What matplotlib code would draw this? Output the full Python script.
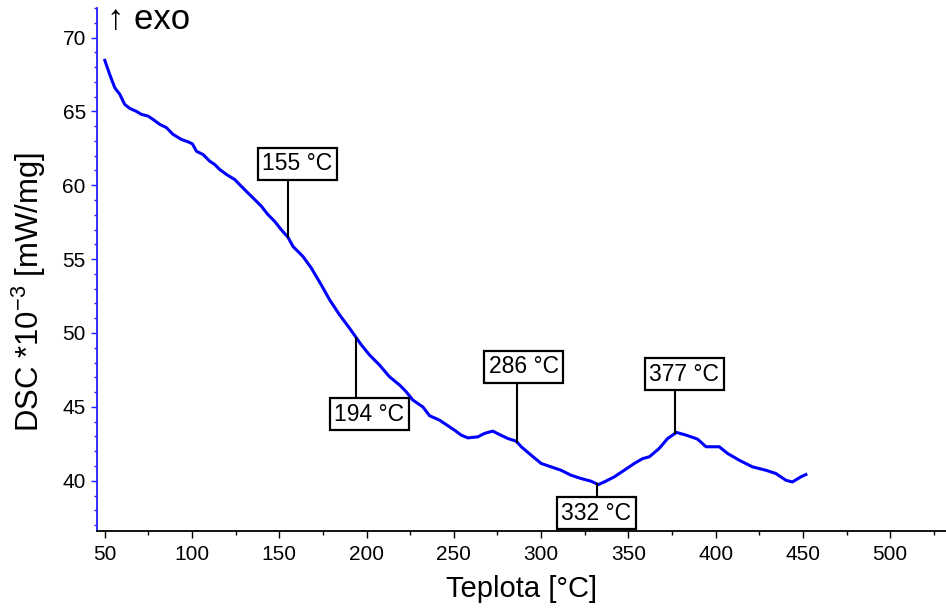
import numpy as np
import matplotlib
matplotlib.use("Agg")
import matplotlib.pyplot as plt
from matplotlib.ticker import MultipleLocator

plt.rcParams['font.family'] = ['Liberation Sans', 'DejaVu Sans']
plt.rcParams['mathtext.fontset'] = 'custom'
plt.rcParams['mathtext.rm'] = 'Liberation Sans'

# DSC trace: temperature [°C] and heat flow [mW/mg * 1e-3]
temperature = [
    50.0, 52.8, 55.7, 58.6, 61.4, 64.3, 68.1, 70.9, 74.8, 77.6, 81.5, 85.3,
    89.1, 93.9, 97.7, 100.2, 102.5, 106.3, 110.1, 113.0, 115.8, 119.7, 124.4,
    128.2, 132.0, 135.9, 139.7, 143.5, 147.3, 151.1, 155.0, 157.8, 163.5,
    168.3, 174.0, 178.8, 184.5, 190.2, 197.0, 201.7, 207.4, 213.1, 218.9,
    222.7, 226.5, 232.2, 236.1, 241.8, 247.5, 250.3, 254.2, 258.0, 263.7,
    267.5, 272.3, 276.1, 280.9, 285.7, 288.6, 294.3, 300.0, 305.7, 311.4,
    317.2, 322.9, 328.6, 332.8, 336.2, 341.9, 347.6, 353.4, 358.2, 362.0,
    367.7, 372.5, 377.6, 383.0, 389.6, 394.5, 402.1, 406.8, 413.5, 421.1,
    428.8, 434.5, 440.3, 444.0, 448.8, 451.7,
]
dsc = [
    68.45, 67.5, 66.6, 66.15, 65.47, 65.2, 65.0, 64.8, 64.68, 64.46, 64.12, 63.9,
    63.44, 63.1, 62.94, 62.8, 62.3, 62.08, 61.63, 61.4, 61.07, 60.73, 60.39,
    59.93, 59.48, 59.03, 58.58, 58.01, 57.56, 56.99, 56.47, 55.86, 55.18,
    54.4, 53.26, 52.25, 51.23, 50.33, 49.19, 48.51, 47.83, 47.04, 46.48,
    46.02, 45.46, 45.0, 44.4, 44.1, 43.65, 43.43, 43.09, 42.9, 42.97,
    43.2, 43.36, 43.13, 42.86, 42.68, 42.3, 41.73, 41.17, 40.94, 40.71,
    40.37, 40.15, 39.97, 39.74, 39.92, 40.26, 40.71, 41.17, 41.5, 41.62,
    42.19, 42.86, 43.27, 43.09, 42.82, 42.3, 42.3, 41.85, 41.39, 40.94,
    40.71, 40.49, 40.03, 39.92, 40.26, 40.42,
]

# Characteristic temperatures and where their labels sit
peak_temps = [155, 194, 286, 332, 377]
label_x = [160.3, 201.5, 290.0, 331.7, 382.0]
label_y = [61.45, 44.5, 47.7, 37.8, 47.2]

fig = plt.figure(figsize=(9.46, 6.12), dpi=100)
ax = fig.add_axes([0.1025, 0.1324, 0.8975, 0.8546])

ax.plot(temperature, dsc, color='#0000ff', lw=2.2, zorder=3)

for t, lx, ly in zip(peak_temps, label_x, label_y):
    yc = np.interp(t, temperature, dsc)
    ax.plot([t, t], [yc, ly], color='black', lw=1.5, zorder=4)
    ax.text(lx, ly, f"{t} °C", ha='center', va='center', fontsize=16.5,
            zorder=5,
            bbox=dict(boxstyle='square,pad=0.2', fc='white', ec='black', lw=1.6))

ax.set_xlim(45.5, 532)
ax.set_ylim(36.6, 72.0)

ax.xaxis.set_major_locator(MultipleLocator(50))
ax.xaxis.set_minor_locator(MultipleLocator(25))
ax.yaxis.set_major_locator(MultipleLocator(5))
ax.yaxis.set_minor_locator(MultipleLocator(1))
ax.set_yticks([40, 45, 50, 55, 60, 65, 70])

for side in ('top', 'right'):
    ax.spines[side].set_visible(False)
ax.spines['left'].set_color('#2020ff')
ax.spines['left'].set_linewidth(1.3)
ax.spines['bottom'].set_color('black')
ax.spines['bottom'].set_linewidth(1.3)

ax.tick_params(axis='y', which='major', direction='out', length=4, width=1,
               color='#2020ff', labelsize=15, pad=4)
ax.tick_params(axis='y', which='minor', direction='out', length=2.5, width=1,
               color='#2020ff')
ax.tick_params(axis='x', which='major', direction='out', length=5, width=1,
               color='black', labelsize=15, pad=5)
ax.tick_params(axis='x', which='minor', direction='out', length=3, width=1,
               color='black')

ax.set_xlabel("Teplota [°C]", fontsize=21)
ax.xaxis.set_label_coords(0.5, -0.084)
ax.set_ylabel(r"DSC *10$^{-3}$ [mW/mg]", fontsize=22.4)
ax.yaxis.set_label_coords(-0.0577, 0.457)

fig.text(0.113, 0.968, "↑ exo", fontsize=25, ha='left', va='center')

fig.savefig("out.png", dpi=100)
